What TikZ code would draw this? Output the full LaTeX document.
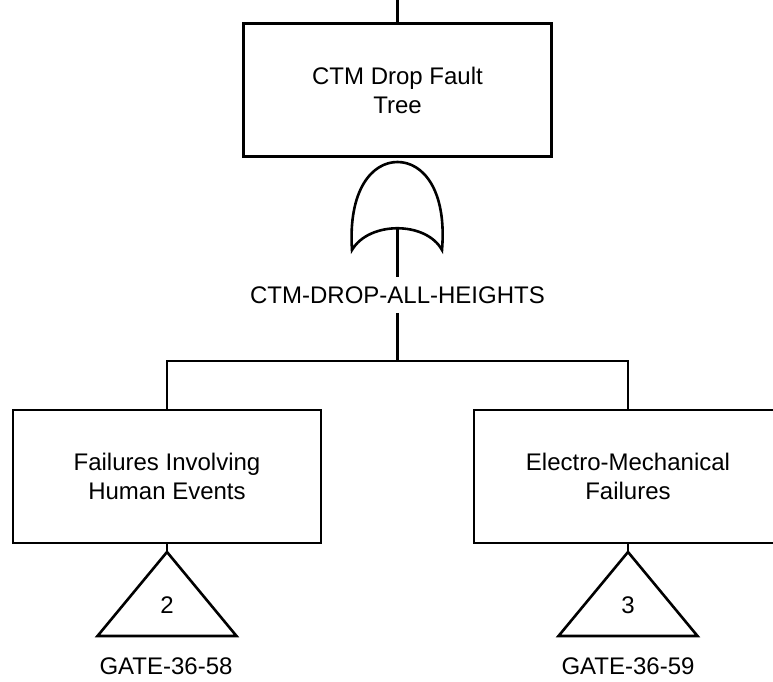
\documentclass[tikz,border=0pt]{standalone}
\usepackage{fontspec}
\setmainfont{Liberation Sans}
\usetikzlibrary{calc}
\begin{document}
\begin{tikzpicture}[x=1pt,y=-1pt,line width=2.6pt,
	evt/.style={draw,minimum width=308pt,minimum height=133pt,align=center,font=\fontsize{24}{29}\selectfont},
	lbl/.style={font=\fontsize{24}{29}\selectfont,inner sep=8pt}]
				\useasboundingbox (0,0) rectangle (773,682);
				\clip (0,0) rectangle (773,682);
				% Evenements
				\node[evt] (top) at (397.5,90) {CTM Drop Fault\\Tree};
				\node[evt] (left) at (167,476.5) {Failures Involving\\Human Events};
				\node[evt] (right) at (628,476.5) {Electro-Mechanical\\Failures};
				\coordinate (topin) at (397.5,0);
				\draw (topin) -- (top.north);
				% Porte OU
				\coordinate (orL) at (352,250);
				\coordinate (orR) at (442,250);
				\coordinate (orIn) at (397.5,228);
				\draw (orL) .. controls (348,190) and (372,162) .. (397.5,162) .. controls (423,162) and (447,190) .. (orR) .. controls (426,221) and (369,221) .. cycle;
				\node[lbl] (gname) at (397.5,295) {CTM-DROP-ALL-HEIGHTS};
				\coordinate (bar) at (397.5,361);
				\draw (orIn) -- (gname.north);
				\draw (gname.south) -- (bar);
				\draw (left.north) |- (bar) -| (right.north);
				% Transferts
				\coordinate (triL) at (167,552);
				\coordinate (triR) at (628,552);
				\draw (left.south) -- (triL);
				\draw (right.south) -- (triR);
				\draw (triL) -- (236.5,636) -- (97.5,636) -- cycle;
				\draw (triR) -- (697.5,636) -- (558.5,636) -- cycle;
				\node[lbl] (numL) at (167,605) {2};
				\node[lbl] (numR) at (628,605) {3};
				\node[lbl] (gateL) at (166,666) {GATE-36-58};
				\node[lbl] (gateR) at (628,666) {GATE-36-59};
				\end{tikzpicture}
\end{document}
